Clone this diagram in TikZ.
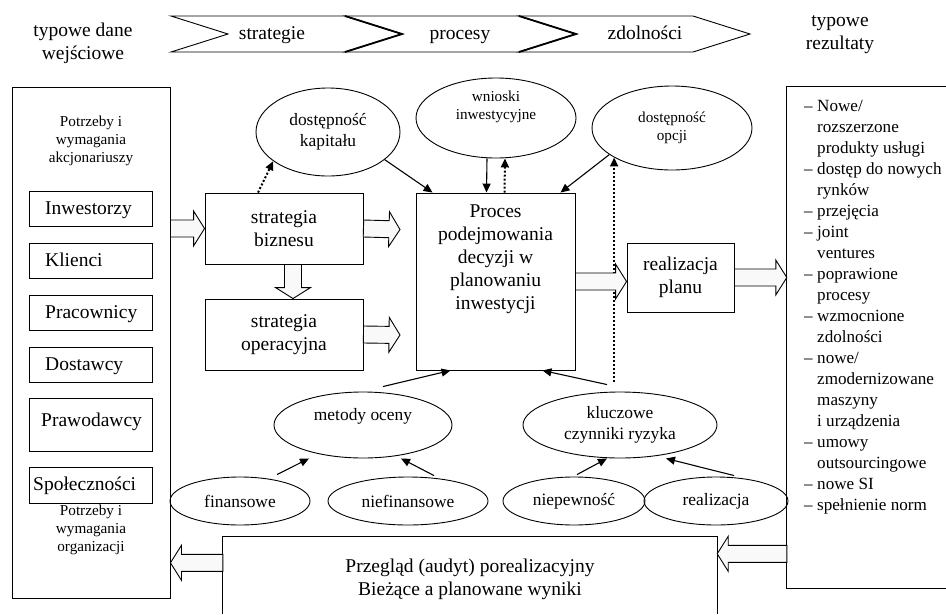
\documentclass[tikz,border=0pt]{standalone}
\usepackage{fontspec}
\setmainfont{Liberation Serif}
\usetikzlibrary{arrows.meta,positioning,shapes.geometric,calc}

\newcommand\rdash{\makebox[13pt][l]{--}}
\newcommand\rgap{\hspace*{13pt}}

\begin{document}
\begin{tikzpicture}[x=1pt, y=-1pt,
  box/.style={rectangle, draw, line width=0.9pt, inner sep=0pt},
  oval/.style={ellipse, draw, line width=0.9pt, inner sep=0pt},
  chev/.style={line width=0.9pt},
  big/.style={font=\fontsize{19.5}{23}\selectfont, align=center, inner sep=0pt},
  mid/.style={font=\fontsize{17.4}{20.5}\selectfont, align=center, inner sep=0pt},
  sml/.style={font=\fontsize{15.2}{17.8}\selectfont, align=center, inner sep=0pt},
  lst/.style={font=\fontsize{17.1}{21}\selectfont, align=left, inner sep=0pt},
  arr/.style={-{Triangle[length=9pt,width=8pt]}, line width=1.1pt},
  dotarr/.style={arr, line width=2pt, dash pattern=on 2pt off 2pt},
  barrow/.style={draw, fill=gray!5, line width=0.9pt, to path={
    let \p1=($(\tikztotarget)-(\tikztostart)$),
        \n1={atan2(\y1,\x1)}, \n2={veclen(\x1,\y1)-11}
    in (\tikztostart) ++({\n1+90}:8.5pt) -- ++({\n1}:{\n2*1pt}) -- ++({\n1+90}:9pt)
       -- (\tikztotarget) -- ($(\tikztotarget)+({\n1+180}:11pt)+({\n1-90}:17.5pt)$)
       -- ++({\n1+90}:9pt) -- ++({\n1+180}:{\n2*1pt}) -- cycle}},
]
\useasboundingbox (0,0) rectangle (946,614);

% banner
\foreach \x in {171,345,519}
  \draw[chev] (\x,16) -- ++(174,0) -- ++(57,18) -- ++(-57,18) -- ++(-174,0) -- ++(57,-18) -- cycle;
\foreach \x in {345,519}
  \draw[line width=1.8pt] (\x,16) -- (\x+57,34) -- (\x,52);
\node[big, anchor=base] (chs) at (272,39.5) {strategie};
\node[big, anchor=base] (chp) at (460,39.5) {procesy};
\node[big, anchor=base] (chz) at (645,39.5) {zdolności};
\node[big] (inlab) at (83,43) {typowe dane\\wejściowe};
\node[big] (outlab) at (840,35) {typowe\\rezultaty};

% left box
\node[box, minimum width=158pt, minimum height=511pt] (lbox) at (91,342.5) {};
\node[sml] (ltop) at (91,141) {Potrzeby i\\wymagania\\akcjonariuszy};
\node[sml] (lbot) at (91,530) {Potrzeby i\\wymagania\\organizacji};
\node[box, minimum width=123pt, minimum height=35pt] (inw) at (90.5,209) {};
\node[box, minimum width=123pt, minimum height=35pt] (kli) at (90.5,260.5) {};
\node[box, minimum width=123pt, minimum height=35pt] (prc) at (90.5,313) {};
\node[box, minimum width=123pt, minimum height=35pt] (dos) at (90.5,364.5) {};
\node[box, minimum width=123pt, minimum height=53pt] (prw) at (90.5,424.5) {};
\node[box, minimum width=123pt, minimum height=36pt] (spo) at (90.5,485) {};
\node[big, anchor=base west] (inwt) at (45,214) {Inwestorzy};
\node[big, anchor=base west] (klit) at (45,266) {Klienci};
\node[big, anchor=base west] (prct) at (45,318) {Pracownicy};
\node[big, anchor=base west] (dost) at (45,370) {Dostawcy};
\node[big, anchor=base west] (prwt) at (41,426) {Prawodawcy};
\node[big, anchor=base west] (spot) at (33,490) {Społeczności};

% middle
\node[box, big, minimum width=158pt, minimum height=71pt] (biz) at (284,228.5) {strategia\\biznesu};
\node[box, big, minimum width=158pt, minimum height=71pt] (ops) at (284,334.5) {strategia\\operacyjna};
\node[box, minimum width=159pt, minimum height=177pt] (proc) at (495.5,281.5) {};
\node[big, anchor=north] (proct) at ([yshift=-11.5pt]proc.north) {Proces\\podejmowania\\decyzji w\\planowaniu\\inwestycji};
\node[box, big, minimum width=107pt, minimum height=69pt] (realiz) at (680.5,277.5) {realizacja\\planu};

\node[oval, mid, minimum width=144pt, minimum height=88pt] (kap) at (328,132) {dostępność\\kapitału};
\node[oval, minimum width=160pt, minimum height=80pt] (wn) at (496,118) {};
\node[sml] (wnt) at (496,107) {wnioski\\inwestycyjne};
\node[oval, sml, minimum width=160pt, minimum height=84pt] (opc) at (672,128) {dostępność\\opcji};

\node[oval, minimum width=178pt, minimum height=66pt] (met) at (363,425) {};
\node[mid] (mett) at (363,416) {metody oceny};
\node[oval, mid, minimum width=194pt, minimum height=66pt] (klu) at (620,425) {kluczowe\\czynniki ryzyka};
\node[oval, mid, minimum width=140pt, minimum height=48pt] (fin) at (240,501) {finansowe};
\node[oval, mid, minimum width=160pt, minimum height=48pt] (nfin) at (408,501) {niefinansowe};
\node[oval, mid, minimum width=142pt, minimum height=48pt] (niep) at (574,501) {niepewność};
\node[oval, mid, minimum width=144pt, minimum height=48pt] (real) at (716,501) {realizacja};

% right box
\node[minimum width=159pt, minimum height=501pt] (rbox) at (866.5,337.5) {};
\draw[line width=0.9pt] (rbox.north east) -- (rbox.north west) -- (rbox.south west) -- (rbox.south east);
\node[lst, anchor=north west] (rlist) at (804,100) {\rdash Nowe/\\\rgap rozszerzone\\\rgap produkty usługi\\
  \rdash dostęp do nowych\\\rgap rynków\\\rdash przejęcia\\\rdash joint\\\rgap ventures\\
  \rdash poprawione\\\rgap procesy\\\rdash wzmocnione\\\rgap zdolności\\\rdash nowe/\\
  \rgap zmodernizowane\\\rgap maszyny\\\rgap i urządzenia\\\rdash umowy\\\rgap outsourcingowe\\
  \rdash nowe SI\\\rdash spełnienie norm};

% bottom box
\node[minimum width=494pt, minimum height=77pt] (bot) at (470,575.5) {};
\draw[line width=0.9pt] (bot.south west) -- (bot.north west) -- (bot.north east) -- (bot.south east);
\node[big] (bott) at (470,579.5) {Przegląd (audyt) porealizacyjny\\Bieżące a planowane wyniki};

% thin arrows
\draw[arr] (kap.-26) -- ([xshift=17pt]proc.north west);
\draw[dotarr] ([xshift=-26pt]biz.north) -- (kap.208);
\draw[arr] ([xshift=-9pt]wn.south) -- ([xshift=-9pt]proc.north);
\draw[dotarr] ([xshift=9pt]proc.north) -- ([xshift=9pt]wn.south);
\draw[arr] (opc.203) -- ([xshift=-15pt]proc.north east);
\draw[dotarr] ([yshift=10pt]klu.north -| opc.207) -- (opc.207);
\draw[arr] ([xshift=20pt,yshift=5pt]met.north) -- ([xshift=-45pt]proc.south);
\draw[arr] ([xshift=-13pt,yshift=7pt]klu.north) -- ([xshift=-33pt]proc.south east);
\draw[arr] ([xshift=37pt,yshift=2pt]fin.north) -- ([xshift=-54pt]met.south);
\draw[arr] ([xshift=26pt,yshift=1pt]nfin.north) -- ([xshift=38pt]met.south);
\draw[arr] ([xshift=3pt,yshift=2pt]niep.north) -- ([xshift=-13pt]klu.south);
\draw[arr] ([xshift=18pt,yshift=1pt]real.north) -- ([xshift=46pt]klu.south);

% block arrows
\coordinate (bizend) at (400,229.5);
\coordinate (opsend) at (400,335);
\coordinate (dn1) at ([xshift=9pt]biz.south);
\coordinate (dn2) at ([xshift=9pt]ops.north);
\coordinate (fb) at ([yshift=-17pt]bot.north east);
\coordinate (fa) at ([yshift=-26pt]bot.north west);
\draw[barrow] (lbox.east |- biz.west) to (biz.west);
\draw[barrow] (biz.east) to (bizend);
\draw[barrow] (dn1) to (dn2);
\draw[barrow] (ops.east) to (opsend);
\draw[barrow] (proc.east) to (proc.east -| realiz.west);
\draw[barrow] (realiz.east) to (realiz.east -| rbox.west);
\draw[barrow] (fb -| rbox.west) to (fb);
\draw[barrow] (fa) to (fa -| lbox.east);
\end{tikzpicture}
\end{document}
